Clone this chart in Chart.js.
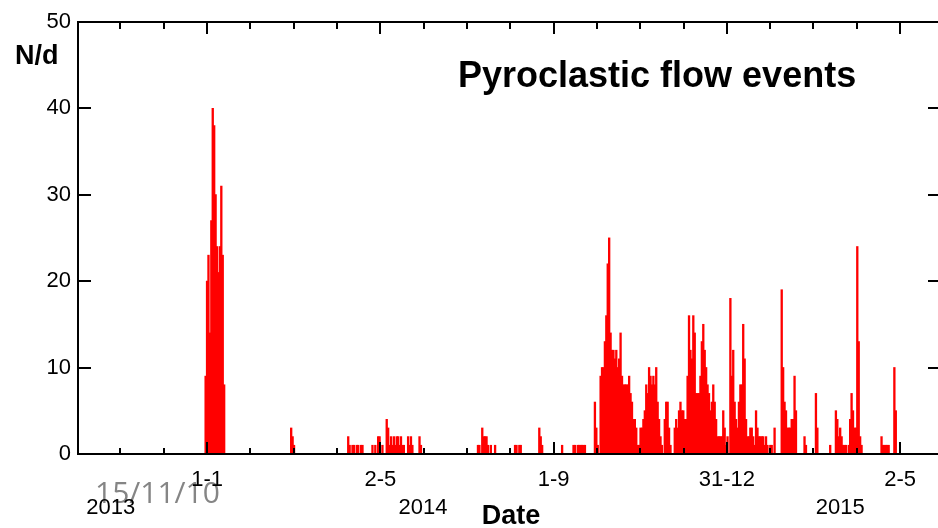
<!DOCTYPE html>
<html><head><meta charset="utf-8">
<script src="https://cdn.jsdelivr.net/npm/chart.js@4.4.0/dist/chart.umd.min.js"></script>
<style>html,body{margin:0;padding:0;background:#fff;}#wrap{width:938px;height:528px;position:relative;}</style>
</head><body><div id="wrap"><canvas id="c" width="938" height="528"></canvas></div>
<script>
// Day index counted from 1 Oct 2013 (1 Jan 2014 = day 92)
// Each run starts on runStartDays[i] and lists daily counts (N/d) for consecutive days
const runStartDays = [91, 151, 191, 208, 241, 282, 308, 325, 341, 349, 364, 495, 511, 519, 529, 533, 565, 574];
const runCounts = [
  [9, 20, 23, 14, 27, 40, 38, 30, 24, 21, 24, 31, 23, 8],
  [3, 2, 1],
  [2, 1, 0, 1, 1, 0, 1, 1, 0, 1, 1],
  [1, 0, 1, 0, 2, 2, 0, 1, 0, 0, 4, 3, 1, 2, 1, 2, 1, 2, 2, 1, 2, 1, 1, 0, 0, 2, 1, 2, 1],
  [2, 1],
  [1, 1, 0, 3, 2, 2, 2, 1, 0, 1, 0, 0, 1],
  [1, 1, 0, 1, 1],
  [3, 2, 1],
  [1],
  [1, 1, 0, 1, 1, 1, 1, 1, 1],
  [6, 3, 1, 0, 9, 10, 10, 13, 16, 22, 25, 14, 12, 12, 11, 12, 10, 11, 14, 9, 8, 8, 8, 8, 9, 7, 6, 4, 4, 3,
   1, 1, 3, 3, 4, 5, 8, 7, 10, 9, 8, 9, 8, 10, 6, 4, 2, 1, 0, 4, 6, 6, 3, 1, 0, 0, 3, 4, 3, 5,
   6, 5, 5, 4, 4, 9, 16, 12, 11, 16, 14, 7, 7, 7, 9, 13, 15, 12, 10, 8, 7, 5, 6, 8, 6, 4, 2, 2, 2, 2,
   5, 3, 1, 2, 0, 18, 9, 12, 6, 4, 3, 6, 8, 8, 15, 11, 4, 2, 2, 3, 3, 2, 1, 5, 3, 2, 2, 2, 2, 1,
   2, 1, 0, 1, 1, 0, 3],
  [19, 10, 6, 5, 3, 3, 3, 4, 4, 9, 5],
  [2, 1],
  [7, 3],
  [1],
  [5, 4, 2, 3, 2, 1, 1, 1, 0, 1, 4, 7, 5, 3, 3, 24, 13, 2, 1],
  [2, 1, 1, 1, 1, 1],
  [10, 5]
];
const majorTickDays = [92, 213.5, 335, 456.5, 578];
const majorTickLabels = ['1-1', '2-5', '1-9', '31-12', '2-5'];
const minorTickStep = 30.375;
const yearLabels = ['2013', '2014', '2015'];
const yearLabelDays = [24.5, 243.5, 536];
const yTickValues = [0, 10, 20, 30, 40, 50];
const xMin = 1.5, xMax = 604.6;

const points = [];
runStartDays.forEach((s, i) => runCounts[i].forEach((c, j) => { if (c > 0) points.push({x: s + j, y: c}); }));
const allXTicks = [];
for (let k = -2; k <= 16; k++) allXTicks.push(majorTickDays[0] + k * minorTickStep);

const FONT = '"Liberation Sans", Arial, Helvetica, sans-serif';
const STAMP_FONT = '400 30px "Open Sans", "Liberation Sans", sans-serif';

const decor = {
  id: 'decor',
  beforeDraw(chart) {
    const ctx = chart.ctx;
    ctx.save();
    ctx.fillStyle = '#858585';
    ctx.font = STAMP_FONT;
    ctx.textAlign = 'left'; ctx.textBaseline = 'middle';
    ctx.fillText('15/11/10', 95, 494);
    ctx.restore();
  },
  afterDatasetsDraw(chart) {
    const {ctx, chartArea: {left, right, top, bottom}, scales: {x, y}} = chart;
    ctx.save();
    ctx.strokeStyle = '#000'; ctx.lineWidth = 2; ctx.lineCap = 'butt';
    const line = (x1, y1, x2, y2) => { ctx.beginPath(); ctx.moveTo(x1, y1); ctx.lineTo(x2, y2); ctx.stroke(); };
    line(left - 1, top, right, top);
    line(left, top - 1, left, bottom + 1);
    line(left - 1, bottom, right, bottom);
    allXTicks.forEach(t => {
      if (t < xMin || t > xMax) return;
      const px = Math.round(x.getPixelForValue(t));
      const major = majorTickDays.includes(t);
      line(px, bottom, px, bottom - (major ? 12 : 6));
      line(px, top, px, top + (major ? 12 : 7));
    });
    yTickValues.forEach(v => {
      if (v === 0 || v === 50) return;
      const py = Math.round(y.getPixelForValue(v));
      line(left, py, left + 13, py);
      line(right, py, right - 10, py);
    });
    ctx.restore();
  },
  afterDraw(chart) {
    const {ctx, scales: {x}} = chart;
    ctx.save();
    ctx.fillStyle = '#000';
    ctx.textBaseline = 'middle';
    ctx.textAlign = 'left';
    ctx.font = 'bold 36px ' + FONT;
    ctx.fillText('Pyroclastic flow events', 458, 77);
    ctx.font = 'bold 27px ' + FONT;
    ctx.fillText('N/d', 15, 57);
    ctx.textAlign = 'center';
    ctx.font = '22px ' + FONT;
    yearLabels.forEach((lab, i) => ctx.fillText(lab, x.getPixelForValue(yearLabelDays[i]), 508));
    ctx.font = 'bold 27px ' + FONT;
    ctx.fillText('Date', 511, 517);
    ctx.restore();
  }
};

const chart = new Chart(document.getElementById('c'), {
  type: 'bar',
  data: { datasets: [{
    data: points,
    backgroundColor: '#ff0000',
    borderWidth: 0,
    inflateAmount: 0.45,
    barPercentage: 1,
    categoryPercentage: 1
  }]},
  options: {
    responsive: false, animation: false, devicePixelRatio: 1,
    layout: { padding: { top: 22, left: 0, right: 0, bottom: 0 } },
    plugins: { legend: { display: false }, tooltip: { enabled: false }, title: { display: false } },
    scales: {
      x: {
        type: 'linear', min: xMin, max: xMax, offset: false,
        afterFit(s) { s.height = 74; },
        afterBuildTicks(s) { s.ticks = allXTicks.filter(v => v >= xMin && v <= xMax).map(v => ({value: v})); },
        ticks: {
          autoSkip: false, maxRotation: 0, minRotation: 0, padding: 13, color: '#000',
          font: { family: FONT, size: 22 },
          callback(v) { const i = majorTickDays.indexOf(v); return i >= 0 ? majorTickLabels[i] : ''; }
        },
        grid: { display: false, drawTicks: false },
        border: { display: false }
      },
      y: {
        min: 0, max: 50,
        afterFit(s) { s.width = 78; },
        afterBuildTicks(s) { s.ticks = yTickValues.map(v => ({value: v})); },
        ticks: { padding: 7, color: '#000', font: { family: FONT, size: 22 } },
        grid: { display: false, drawTicks: false },
        border: { display: false }
      }
    }
  },
  plugins: [decor]
});
if (document.fonts && document.fonts.load) {
  document.fonts.load(STAMP_FONT, '15/11/10').then(() => chart.draw()).catch(() => {});
}
</script></body></html>
